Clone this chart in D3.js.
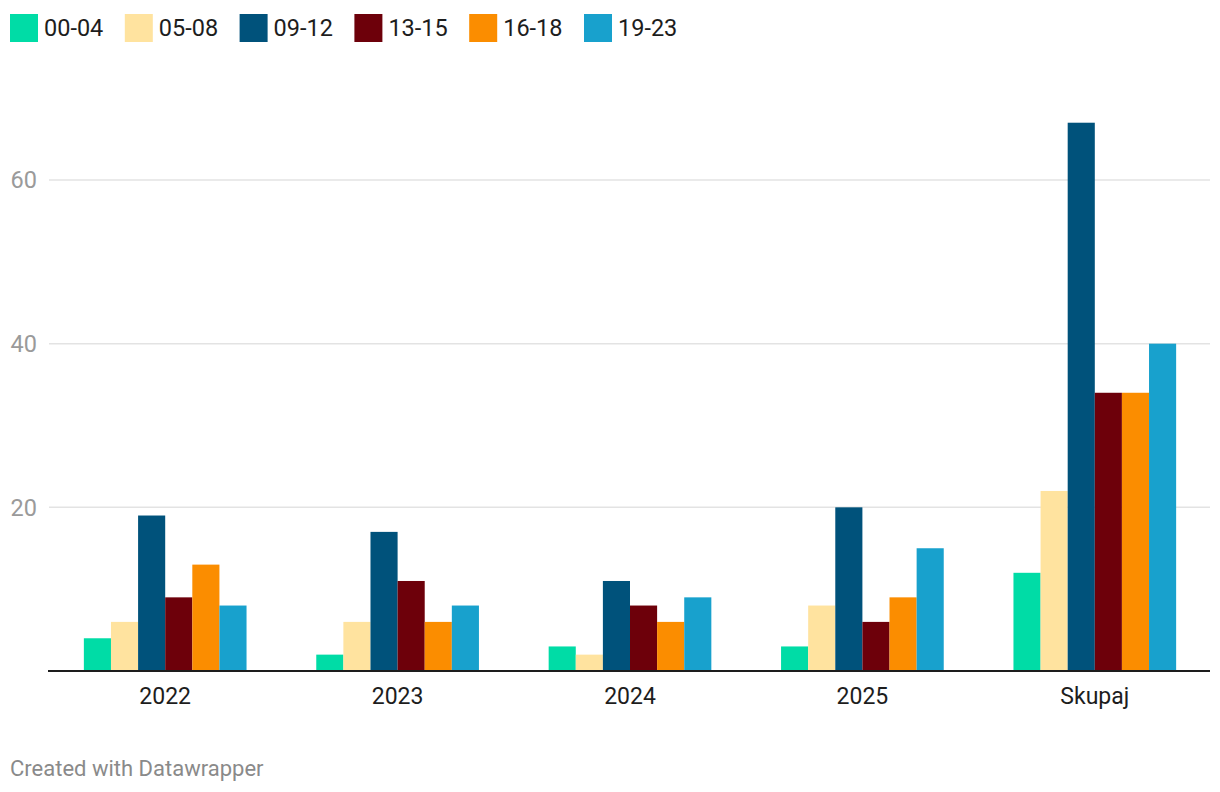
<!DOCTYPE html>
<html><head><meta charset="utf-8">
<script src="https://cdn.jsdelivr.net/npm/d3@7"></script>
<style>body{margin:0;background:#fff;font-family:Roboto,sans-serif}</style>
</head><body><svg id="c" width="1220" height="792"></svg>
<script>
const categories = ["2022","2023","2024","2025","Skupaj"];
const seriesNames = ["00-04","05-08","09-12","13-15","16-18","19-23"];
const colors = ["#00dca6","#ffe39f","#00527b","#6d000a","#fb8d00","#18a1cd"];
const s0004 = [4,2,3,3,12];
const s0508 = [6,6,2,8,22];
const s0912 = [19,17,11,20,67];
const s1315 = [9,11,8,6,34];
const s1618 = [13,6,6,9,34];
const s1923 = [8,8,9,15,40];
const yTicks = [20,40,60];

const series = [s0004,s0508,s0912,s1315,s1618,s1923];
const svg = d3.select("#c");
const x0 = d3.scaleBand().domain(categories).range([49,1211]).paddingInner(0.3).paddingOuter(0.15);
const x1 = d3.scaleBand().domain(seriesNames).range([0,x0.bandwidth()]);
const y = d3.scaleLinear().domain([0,60]).range([671,180]);

// gridlines
svg.append("g").selectAll("line").data(yTicks).join("line")
  .attr("x1",49).attr("x2",1210).attr("y1",d=>y(d)).attr("y2",d=>y(d))
  .attr("stroke","#e3e3e3").attr("stroke-width",1.5);
svg.append("g").selectAll("text").data(yTicks).join("text")
  .attr("x",37).attr("y",d=>y(d)).attr("dy","0.35em").attr("text-anchor","end")
  .attr("fill","#9a9a9a").style("font-size","23.5px").text(d=>d);

// bars
const g = svg.append("g");
categories.forEach((c,ci)=>{
  seriesNames.forEach((s,si)=>{
    g.append("rect").attr("x",x0(c)+x1(s)).attr("width",x1.bandwidth())
      .attr("y",y(series[si][ci])).attr("height",y(0)-y(series[si][ci]))
      .attr("fill",colors[si]);
  });
});

// x axis
svg.append("line").attr("x1",48).attr("x2",1210).attr("y1",671).attr("y2",671)
  .attr("stroke","#1d1d1d").attr("stroke-width",2);
svg.append("g").selectAll("text").data(categories).join("text")
  .attr("x",d=>x0(d)+x0.bandwidth()/2).attr("y",704).attr("text-anchor","middle")
  .attr("fill","#1d1d1d").style("font-size","23px").text(d=>d);

// legend
const lg = svg.append("g");
seriesNames.forEach((s,i)=>{
  const lx = 10 + i*114.8;
  lg.append("rect").attr("x",lx).attr("y",14).attr("width",28).attr("height",28).attr("fill",colors[i]);
  lg.append("text").attr("x",lx+34).attr("y",36).attr("fill","#1d1d1d").style("font-size","23.5px").text(s);
});

svg.append("text").attr("x",10).attr("y",776).attr("fill","#8a8a8a").style("font-size","22px").text("Created with Datawrapper");
</script></body></html>
